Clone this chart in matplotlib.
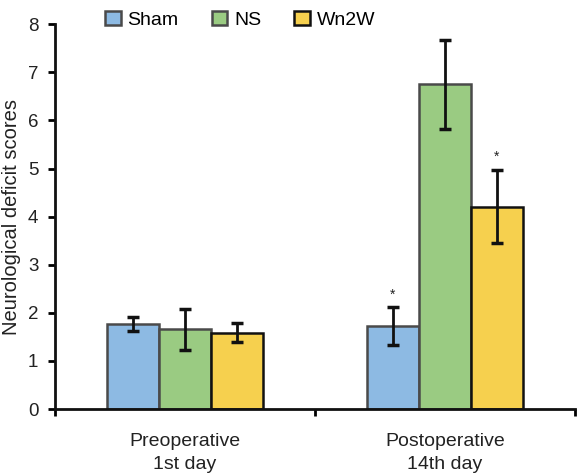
import matplotlib
matplotlib.use("Agg")
import matplotlib.pyplot as plt
import numpy as np
from matplotlib.patches import Patch

plt.rcParams['font.family'] = ['Liberation Sans', 'DejaVu Sans']

groups = ["Preoperative\n1st day", "Postoperative\n14th day"]
series = ["Sham", "NS", "Wn2W"]
values = {
    "Sham": [1.77, 1.73],
    "NS": [1.66, 6.75],
    "Wn2W": [1.59, 4.21],
}
errors = {
    "Sham": [0.15, 0.39],
    "NS": [0.43, 0.93],
    "Wn2W": [0.20, 0.76],
}
stars = {
    "Sham": ["", "*"],
    "NS": ["", ""],
    "Wn2W": ["", "*"],
}
colors = {"Sham": "#8DBAE3", "NS": "#9ACB82", "Wn2W": "#F6D04E"}
edges = {"Sham": "#4a4a4a", "NS": "#4a4a4a", "Wn2W": "#111111"}

fig = plt.figure(figsize=(5.86, 4.74), dpi=100)
ax = fig.add_axes([0.094, 0.137, 0.887, 0.812])

x = np.arange(len(groups))
w = 0.2
for i, s in enumerate(series):
    pos = x + (i - 1) * w
    ax.bar(pos, values[s], w, color=colors[s], edgecolor=edges[s], linewidth=1.8, zorder=2)
    ax.errorbar(pos, values[s], yerr=errors[s], fmt='none', ecolor='#111111',
                elinewidth=2, capsize=4, capthick=2.5, zorder=3)
    for p, v, e, st in zip(pos, values[s], errors[s], stars[s]):
        if st:
            ax.text(p, v + e + 0.12, st, ha='center', va='bottom', fontsize=10, color='#222222')

ax.set_xlim(-0.5, 1.5)
ax.set_ylim(0, 8)
ax.set_yticks(range(0, 9))
ax.set_xticks([-0.5, 0.5, 1.5])
ax.set_xticklabels([])
ax.set_xticks(x, minor=True)
ax.set_xticklabels(groups, minor=True, fontsize=14, color='#222222', linespacing=1.45)
ax.tick_params(axis='x', which='minor', length=0, pad=17)
ax.tick_params(axis='x', which='major', length=5, width=2, direction='out')
ax.tick_params(axis='y', length=5, width=2, direction='out', labelsize=13.5,
               labelcolor='#222222', pad=7)
for sp in ['top', 'right']:
    ax.spines[sp].set_visible(False)
for sp in ['left', 'bottom']:
    ax.spines[sp].set_linewidth(2)
    ax.spines[sp].set_color('#111111')
ax.set_ylabel("Neurological deficit scores", fontsize=14.5, color='#222222', va='center')
ax.yaxis.set_label_coords(-0.0835, 0.5)

handles = [Patch(facecolor=colors[s], edgecolor=edges[s], linewidth=1.8) for s in series]
leg = fig.legend(handles, series, loc='upper left', bbox_to_anchor=(0.156, 1.005), ncol=3,
                 frameon=False, fontsize=14, handlelength=0.8, handleheight=0.7,
                 columnspacing=1.7, handletextpad=0.35, borderpad=0.2)

fig.savefig("out.png", dpi=100)
